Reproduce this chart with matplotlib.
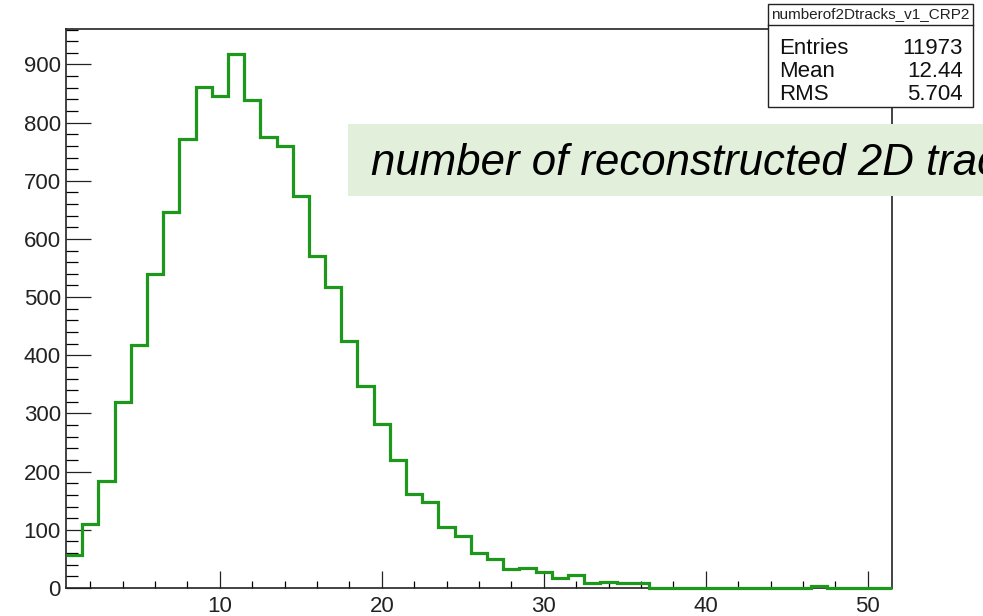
import matplotlib
matplotlib.use("Agg")
import matplotlib.pyplot as plt
from matplotlib.patches import Rectangle
from matplotlib.ticker import MultipleLocator
import numpy as np

plt.rcParams['font.family'] = ['Liberation Sans', 'DejaVu Sans']

# bin centres 1..51 (width 1), counts
bin_centres = list(range(1, 52))
counts = [56, 110, 184, 319, 417, 540, 647, 772, 861, 845,
          918, 839, 775, 760, 673, 570, 517, 425, 348, 282,
          220, 162, 147, 105, 90, 60, 50, 33, 35, 27,
          17, 22, 8, 10, 8, 8, 0, 0, 0, 0,
          0, 0, 0, 0, 0, 0, 3, 0, 0, 0,
          0]
hist_name = "numberof2Dtracks_v1_CRP2"
stat_names = ["Entries", "Mean", "RMS"]
stat_values = ["11973", "12.44", "5.704"]
note = "number of reconstructed 2D tracks"

green = '#1d981d'

fig = plt.figure(figsize=(9.83, 6.16), dpi=100)
ax = fig.add_axes([0.0671, 0.0455, 0.8403, 0.9075])

edges = np.append(np.array(bin_centres) - 0.5, bin_centres[-1] + 0.5)
ax.stairs(counts, edges, baseline=None, color=green, lw=2.3, zorder=3, clip_on=False)

ax.set_xlim(0.5, 51.5)
ax.set_ylim(0, 961)
ax.xaxis.set_major_locator(MultipleLocator(10))
ax.xaxis.set_minor_locator(MultipleLocator(2))
ax.yaxis.set_major_locator(MultipleLocator(100))
ax.yaxis.set_minor_locator(MultipleLocator(20))
ax.tick_params(axis='y', which='major', direction='in', length=18, width=0.9, pad=3.6, labelsize=16, colors='#222222')
ax.tick_params(axis='y', which='minor', direction='in', length=8.8, width=0.9)
ax.tick_params(axis='x', which='major', direction='in', length=12, width=0.9, pad=5.5, labelsize=16, colors='#222222')
ax.tick_params(axis='x', which='minor', direction='in', length=5.2, width=0.9)
for s in ax.spines.values():
    s.set_linewidth(1.2)
    s.set_color('#222222')

# stats box
x0, x1 = 768 / 983, 973 / 983
yb, yt = 1 - 107 / 616, 1 - 4 / 616
ydiv = 1 - 25 / 616
fig.patches.append(Rectangle((x0, yb), x1 - x0, yt - yb, transform=fig.transFigure,
                             facecolor='white', edgecolor='#222222', lw=1.0, zorder=5))
fig.add_artist(plt.Line2D([x0, x1], [ydiv, ydiv], transform=fig.transFigure,
                          color='#222222', lw=1.0, zorder=6))
fig.text((x0 + x1) / 2, (yt + ydiv) / 2, hist_name, ha='center', va='center',
         fontsize=11, color='#222222', zorder=7)
baselines = [54, 76.7, 100]
for name, val, b in zip(stat_names, stat_values, baselines):
    fig.text(779 / 983, 1 - b / 616, name, ha='left', va='baseline', fontsize=16, color='#111111', zorder=7)
    fig.text(963 / 983, 1 - b / 616, val, ha='right', va='baseline', fontsize=16, color='#111111', zorder=7)

# annotation box
gx0 = 348 / 983
gyb, gyt = 1 - 196 / 616, 1 - 124 / 616
fig.patches.append(Rectangle((gx0, gyb), 1 - gx0 + 0.01, gyt - gyb, transform=fig.transFigure,
                             facecolor='#e2efda', edgecolor='none', zorder=8))
fig.text(371 / 983, 1 - 175 / 616, note, ha='left', va='baseline', fontsize=31.5,
         style='italic', color='black', zorder=9)

fig.savefig('out.png', dpi=100)
